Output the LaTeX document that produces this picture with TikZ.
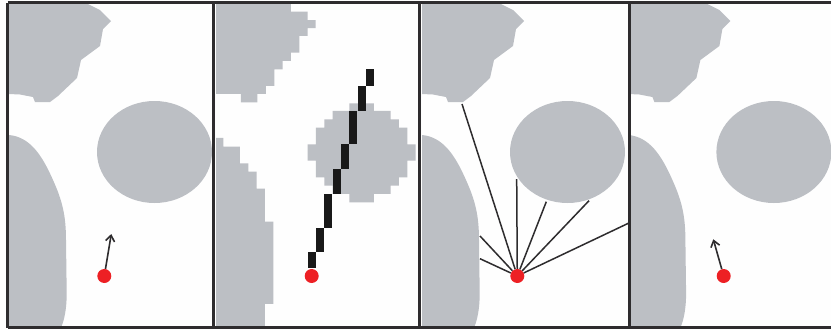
\documentclass[tikz,border=0pt]{standalone}
\usepackage{tikz}
\usetikzlibrary{arrows.meta}
\definecolor{mapgrey}{HTML}{BCBFC4}
\definecolor{framegrey}{HTML}{2E2C2E}
\definecolor{dotred}{HTML}{ED2024}
\tikzset{
  obstacle/.style={fill=mapgrey,draw=none},
  frameline/.style={draw=framegrey,line width=2.6pt},
  robot/.style={circle,fill=dotred,draw=none,inner sep=0pt,minimum size=14pt},
  heading/.style={draw=framegrey,line width=1.6pt,-{Straight Barb[length=6pt,width=9pt,line width=1.6pt]}},
  ray/.style={draw=framegrey,line width=1.5pt},
  cellrun/.style={fill=black!90,draw=none}
}
\newcommand{\smoothmap}{%
  \fill[obstacle] (9,4) -- (88,4) -- (100,10) -- (111,21) -- (103,29) -- (100,46) -- (81,60) -- (77,78) -- (58,96) -- (50,102) -- (35,102) -- (33,97) -- (20,94.5) -- (9,94) -- cycle;
  \fill[obstacle] (9,135) .. controls (30,137) and (42,155) .. (53,180) .. controls (62,200) and (66,215) .. (66,240) -- (66.7,293) .. controls (66.7,310) and (64,320) .. (61.7,326) -- (9,326) -- cycle;
  \fill[obstacle] (154.5,152) ellipse (57.5 and 51);
}
\begin{document}
\begin{tikzpicture}[x=1pt,y=-1pt]
\useasboundingbox (0,0) rectangle (831,330);
\fill[white!99!gray] (0,0) rectangle (831,330);
% smooth map, three times
\foreach \dx in {0,413,619.4}{
  \begin{scope}[xshift=\dx pt]
    \smoothmap
  \end{scope}
}
% grid map
\begin{scope}[xshift=210pt,x=0.3333pt,y=-0.3333pt]
  \fill[obstacle] (18,12) -- (243,12) -- (243,35) -- (293,35) -- (293,60) -- (317,60) -- (317,84) -- (293,84) -- (293,108) -- (268,108) -- (268,158) -- (243,158) -- (243,183) -- (218,183) -- (218,208) -- (193,208) -- (193,258) -- (168,258) -- (168,282) -- (142,282) -- (142,307) -- (93,307) -- (93,282) -- (18,282) -- cycle;
  \fill[obstacle] (18,414) -- (40,414) -- (40,440) -- (90,440) -- (90,490) -- (115,490) -- (115,515) -- (140,515) -- (140,566) -- (165,566) -- (165,665) -- (190,665) -- (190,912) -- (165,912) -- (165,980) -- (18,980) -- cycle;
  \fill[obstacle] (418,310) -- (492,310) -- (492,333) -- (542,333) -- (542,358) -- (567,358) -- (567,383) -- (592,383) -- (592,433) -- (617,433) -- (617,482) -- (592,482) -- (592,532) -- (567,532) -- (567,557) -- (542,557) -- (542,582) -- (492,582) -- (492,607) -- (418,607) -- (418,582) -- (368,582) -- (368,557) -- (343,557) -- (343,532) -- (318,532) -- (318,482) -- (293,482) -- (293,433) -- (318,433) -- (318,383) -- (343,383) -- (343,358) -- (368,358) -- (368,333) -- (418,333) -- cycle;
  \foreach \xa/\ya/\yb in {468/208/258,443/258/332,418/333/432,393/432/507,368/507/583,343/583/683,318/683/757,293/757/805}{
    \fill[cellrun] (\xa,\ya) rectangle (\xa+24,\yb);
  }
\end{scope}
% frames
\draw[frameline] (7.5,2.5) -- (835,2.5);
\draw[frameline] (7.5,327.5) -- (835,327.5);
\foreach \fx in {7.5,213.5,419.7,629.5}{
  \draw[frameline] (\fx,2.5) -- (\fx,327.5);
}
% robots
\node[robot] (dotA) at (104.3,276) {};
\node[robot] (dotB) at (311.7,276) {};
\node[robot] (dotC) at (517.3,276) {};
\node[robot] (dotD) at (723.7,276) {};
% headings
\coordinate (headA) at (111.3,234);
\coordinate (headD) at (713.3,239.3);
\draw[heading] (dotA) -- (headA);
\draw[heading] (dotD) -- (headD);
% rays
\coordinate (rayA) at (462,104);
\coordinate (rayB) at (516.7,179);
\coordinate (rayC) at (546.3,201.7);
\coordinate (rayD) at (589,200.7);
\coordinate (rayE) at (628.3,223.3);
\coordinate (rayF) at (480,236);
\coordinate (rayG) at (480,258.7);
\foreach \e in {rayA,rayB,rayC,rayD,rayE,rayF,rayG}{
  \draw[ray] (dotC) -- (\e);
}
\end{tikzpicture}
\end{document}
